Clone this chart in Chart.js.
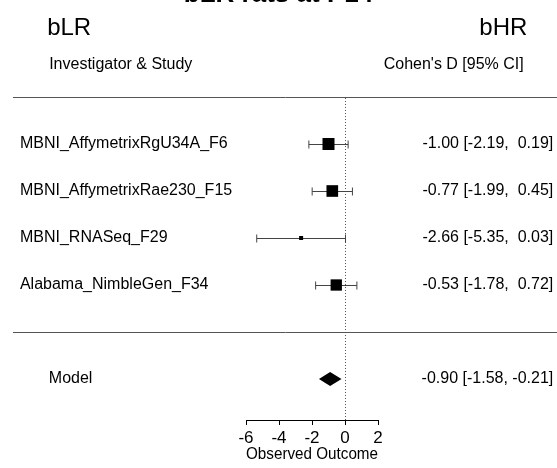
<!DOCTYPE html>
<html><head><meta charset="utf-8">
<script src="https://cdn.jsdelivr.net/npm/chart.js@4"></script>
<style>html,body{margin:0;padding:0;background:#fff}canvas{display:block}</style>
</head><body>
<canvas id="c" width="557" height="468"></canvas>
<script>
// ---- data ----
const studies = ["MBNI_AffymetrixRgU34A_F6", "MBNI_AffymetrixRae230_F15", "MBNI_RNASeq_F29", "Alabama_NimbleGen_F34"];
const estimates = [-1.00, -0.77, -2.66, -0.53];
const lowers = [-2.19, -1.99, -5.35, -1.78];
const uppers = [0.19, 0.45, 0.03, 0.72];
const modelLabel = "Model";
const modelEstimate = -0.90;
const modelLower = -1.58;
const modelUpper = -0.21;
const xTicks = [-6, -4, -2, 0, 2];
const titleText = "bLR rats at P14";
const leftGroup = "bLR";
const rightGroup = "bHR";
const headerLeft = "Investigator & Study";
const headerRight = "Cohen's D [95% CI]";
const xAxisTitle = "Observed Outcome";

// ---- layout (data units of the scales) ----
const FONT = "'Liberation Sans', Arial, sans-serif";
const L = {
  labelX: -19.70, modelLabelX: -17.95, groupLeftX: -18.05, valueX: 12.62,
  headerRightX: 10.83, groupRightX: 11.05, lineFromX: -20.12, lineToX: 14,
  headerY: 5.70, groupY: 6.47, titleY: 7.03, topLineY: 5, bottomLineY: 0, modelY: -1
};
const k = studies.length;
const rowY = i => k - i;

function fmt(v) { return v.toFixed(2).padStart(5, ' '); }
function ciText(e, lo, hi) { return fmt(e) + " [" + fmt(lo) + ", " + fmt(hi) + "]"; }

// square sizes from the precision of each estimate (metafor-style scaling)
const wi = lowers.map((lo, i) => 1 / ((uppers[i] - lo) / 3.92));
const wMin = Math.min(...wi), wMax = Math.max(...wi);
const side = wi.map(w => 8 * ((w - wMin) / (wMax - wMin) + 0.5));

const forestPlugin = {
  id: 'forest',
  beforeDatasetsDraw(chart) {
    const ctx = chart.ctx, xs = chart.scales.x, ys = chart.scales.y;
    const X = v => xs.getPixelForValue(v), Y = v => ys.getPixelForValue(v);
    ctx.save();
    // horizontal separators
    ctx.strokeStyle = '#555'; ctx.lineWidth = 1;
    [L.topLineY, L.bottomLineY].forEach(v => {
      const y = Math.round(Y(v)) + 0.5;
      ctx.beginPath(); ctx.moveTo(X(L.lineFromX), y); ctx.lineTo(X(L.lineToX), y); ctx.stroke();
    });
    // dotted reference line at 0
    ctx.setLineDash([1, 2]);
    ctx.strokeStyle = '#555';
    const x0 = Math.round(X(0)) + 0.5;
    ctx.beginPath(); ctx.moveTo(x0, Y(L.topLineY) + 1); ctx.lineTo(x0, chart.chartArea.bottom); ctx.stroke();
    ctx.setLineDash([]);
    // whiskers
    ctx.strokeStyle = '#444';
    studies.forEach((s, i) => {
      const y = Math.round(Y(rowY(i))) + 0.5;
      const xl = X(lowers[i]), xh = X(uppers[i]);
      ctx.beginPath();
      ctx.moveTo(xl, y); ctx.lineTo(xh, y);
      ctx.moveTo(xl, y - 4); ctx.lineTo(xl, y + 4);
      ctx.moveTo(xh, y - 4); ctx.lineTo(xh, y + 4);
      ctx.stroke();
    });
    // summary diamond
    const ym = Y(L.modelY);
    ctx.fillStyle = '#000';
    ctx.beginPath();
    ctx.moveTo(X(modelLower), ym);
    ctx.lineTo(X(modelEstimate), ym - 7);
    ctx.lineTo(X(modelUpper), ym);
    ctx.lineTo(X(modelEstimate), ym + 7);
    ctx.closePath(); ctx.fill();
    ctx.restore();
  },
  afterDraw(chart) {
    const ctx = chart.ctx, xs = chart.scales.x, ys = chart.scales.y;
    const X = v => xs.getPixelForValue(v), Y = v => ys.getPixelForValue(v);
    ctx.save();
    ctx.fillStyle = '#000';
    // title (mostly above the canvas)
    ctx.font = "bold 26px " + FONT;
    ctx.textAlign = 'center'; ctx.textBaseline = 'alphabetic';
    ctx.fillText(titleText, chart.width / 2, Y(L.titleY));
    // group labels
    ctx.font = "24px " + FONT; ctx.textBaseline = 'middle';
    ctx.textAlign = 'left'; ctx.fillText(leftGroup, X(L.groupLeftX), Y(L.groupY));
    ctx.textAlign = 'right'; ctx.fillText(rightGroup, X(L.groupRightX), Y(L.groupY));
    // headers
    ctx.font = "16px " + FONT;
    ctx.textAlign = 'left'; ctx.fillText(headerLeft, X(L.groupLeftX) + 2, Y(L.headerY));
    ctx.textAlign = 'right'; ctx.fillText(headerRight, X(L.headerRightX), Y(L.headerY));
    // rows
    studies.forEach((s, i) => {
      const y = Y(rowY(i));
      ctx.textAlign = 'left'; ctx.fillText(s, X(L.labelX), y);
      ctx.textAlign = 'right'; ctx.fillText(ciText(estimates[i], lowers[i], uppers[i]), X(L.valueX), y);
    });
    const ym = Y(L.modelY);
    ctx.textAlign = 'left'; ctx.fillText(modelLabel, X(L.modelLabelX), ym);
    ctx.textAlign = 'right'; ctx.fillText(ciText(modelEstimate, modelLower, modelUpper), X(L.valueX), ym);
    ctx.restore();
  }
};

new Chart(document.getElementById('c').getContext('2d'), {
  type: 'scatter',
  data: {
    datasets: [{
      data: studies.map((s, i) => ({ x: estimates[i], y: rowY(i) })),
      pointStyle: 'rect',
      pointRadius: c => side[c.dataIndex] / (2 * Math.SQRT1_2),
      pointBackgroundColor: '#000',
      pointBorderWidth: 0,
      clip: false
    }]
  },
  options: {
    responsive: false, animation: false, events: [],
    layout: { autoPadding: false, padding: { left: 246, right: 179, top: 0, bottom: 0 } },
    plugins: { legend: { display: false }, tooltip: { enabled: false } },
    scales: {
      x: {
        type: 'linear', min: -6, max: 2,
        afterBuildTicks: axis => { axis.ticks = xTicks.map(v => ({ value: v })); },
        afterFit: axis => { axis.height = 48; },
        grid: { drawOnChartArea: false, drawTicks: true, tickLength: 5, color: '#000' },
        border: { color: '#000', width: 1 },
        ticks: { color: '#000', font: { family: FONT, size: 17, lineHeight: 1 }, padding: 4.5, maxRotation: 0, autoSkip: false },
        title: { display: true, text: xAxisTitle, color: '#000', font: { family: FONT, size: 17, lineHeight: 1 }, padding: { top: 0, bottom: 5.5 } }
      },
      y: { type: 'linear', display: false, min: -1.8723, max: 7.0638 }
    }
  },
  plugins: [forestPlugin]
});
</script>
</body></html>
